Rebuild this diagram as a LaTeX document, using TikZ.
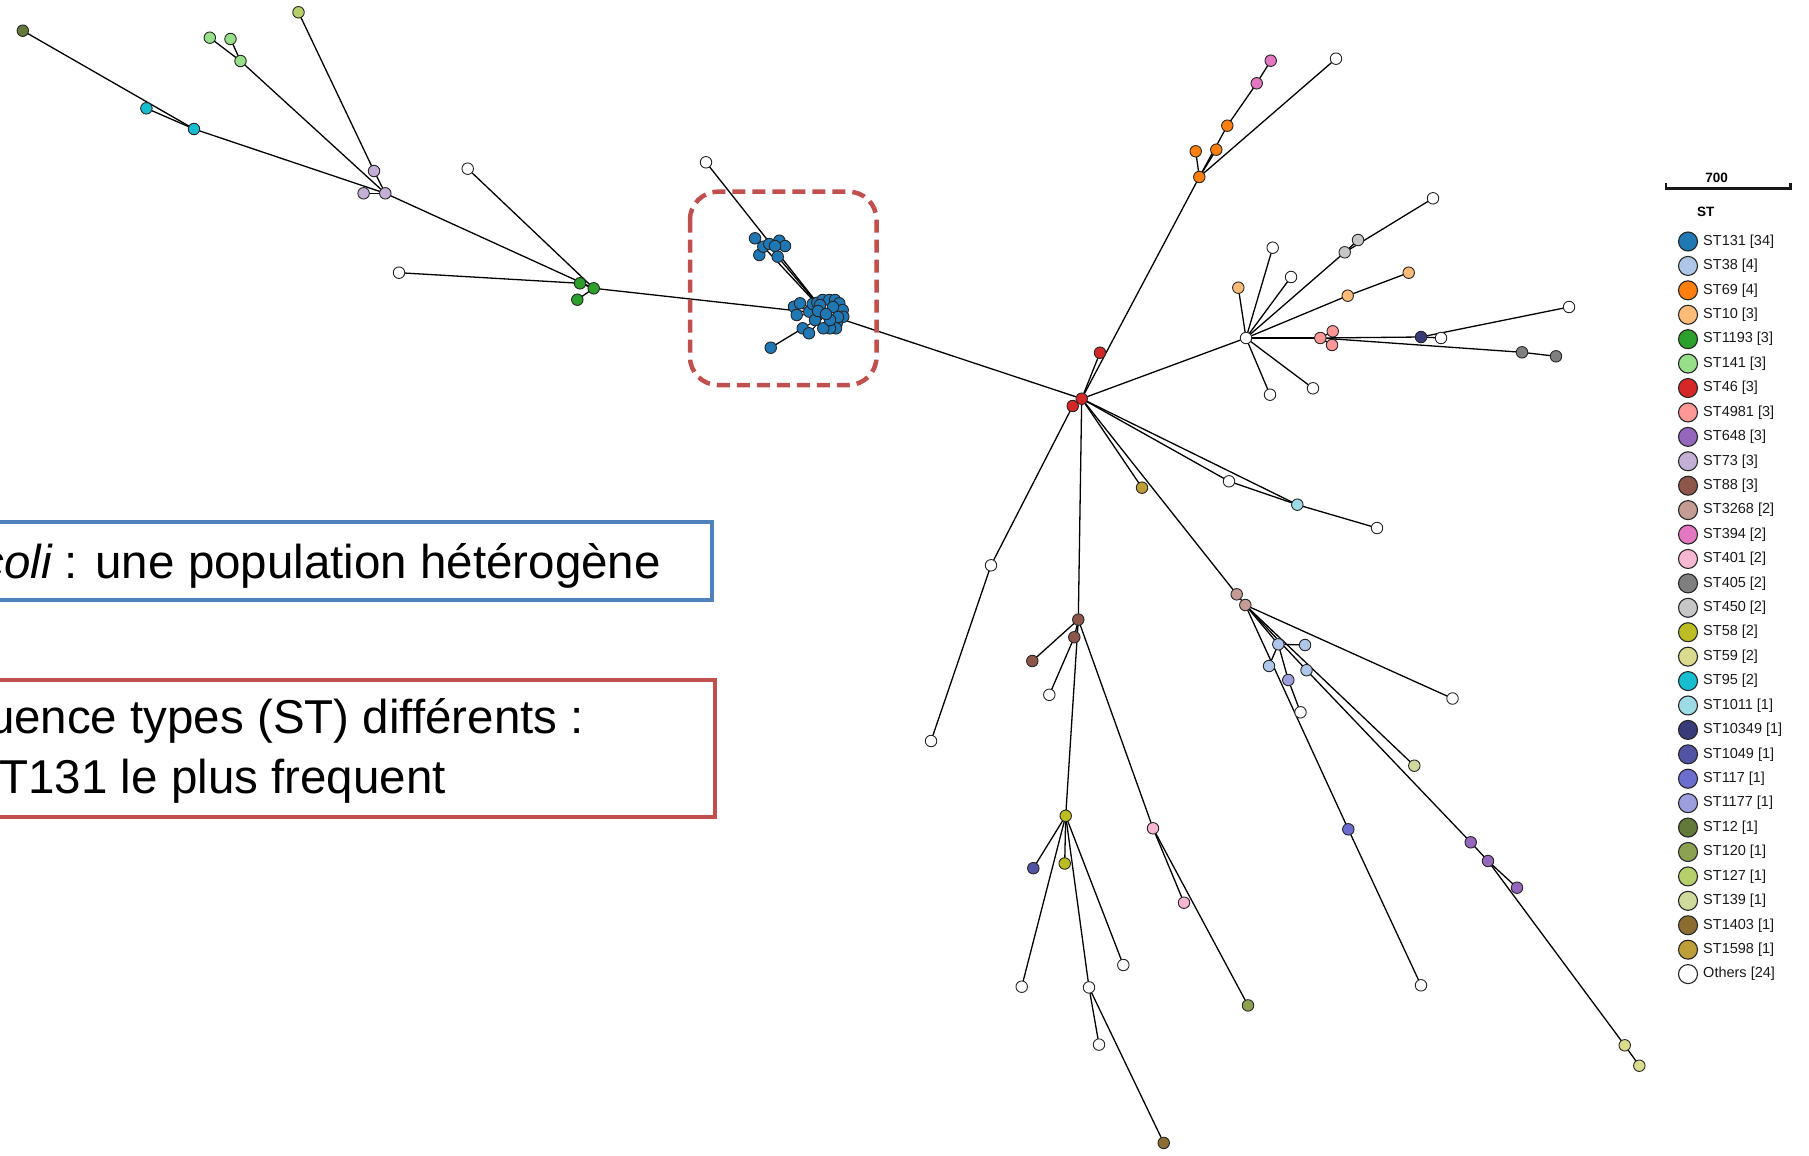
\documentclass[tikz,border=0pt]{standalone}
\usepackage{fontspec}
\setmainfont{Liberation Sans}
\usetikzlibrary{backgrounds}
\definecolor{c131}{HTML}{1F77B4}
\definecolor{c38}{HTML}{AEC7E8}
\definecolor{c69}{HTML}{FF7F0E}
\definecolor{c10}{HTML}{FFBB78}
\definecolor{c1193}{HTML}{2CA02C}
\definecolor{c141}{HTML}{98DF8A}
\definecolor{c46}{HTML}{D62728}
\definecolor{c4981}{HTML}{FF9896}
\definecolor{c648}{HTML}{9467BD}
\definecolor{c73}{HTML}{C5B0D5}
\definecolor{c88}{HTML}{8C564B}
\definecolor{c3268}{HTML}{C49C94}
\definecolor{c394}{HTML}{E377C2}
\definecolor{c401}{HTML}{F7B6D2}
\definecolor{c405}{HTML}{7F7F7F}
\definecolor{c450}{HTML}{C7C7C7}
\definecolor{c58}{HTML}{BCBD22}
\definecolor{c59}{HTML}{DBDB8D}
\definecolor{c95}{HTML}{17BECF}
\definecolor{c1011}{HTML}{9EDAE5}
\definecolor{c10349}{HTML}{393B79}
\definecolor{c1049}{HTML}{5254A3}
\definecolor{c117}{HTML}{6B6ECF}
\definecolor{c1177}{HTML}{9C9EDE}
\definecolor{c12}{HTML}{637939}
\definecolor{c120}{HTML}{8CA252}
\definecolor{c127}{HTML}{B5CF6B}
\definecolor{c139}{HTML}{CEDB9C}
\definecolor{c1403}{HTML}{8C6D31}
\definecolor{c1598}{HTML}{BD9E39}
\definecolor{cw}{HTML}{FFFFFF}
\definecolor{pblue}{HTML}{4F81BD}
\definecolor{pred}{HTML}{C0504D}
\tikzset{
  nd/.style={circle, draw=black!85, line width=0.9pt, minimum size=11.5pt, inner sep=0pt},
  lgc/.style={circle, draw=black!85, line width=1.1pt, minimum size=19pt, inner sep=0pt},
  lgt/.style={anchor=west, inner sep=0pt, text=black!90, font=\fontsize{14.5}{17}\selectfont},
  edge/.style={line width=1.3pt, black},
  bigtxt/.style={anchor=base east, inner sep=0pt, font=\fontsize{47.5}{56}\selectfont}
}
\begin{document}
\begin{tikzpicture}[x=1pt,y=-1pt]
\useasboundingbox (0,0) rectangle (1809,1156);
\clip (0,0) rectangle (1809,1156);

% ---------- left branches ----------
\node[nd,fill=c12] (n12) at (22.8,30.7) {};
\node[nd,fill=c95] (t1) at (146.4,108.3) {};
\node[nd,fill=c95] (t2) at (194,129) {};
\node[nd,fill=c141] (g1) at (209.8,37.7) {};
\node[nd,fill=c141] (g2) at (230.5,39) {};
\node[nd,fill=c141] (g3) at (240.5,61) {};
\node[nd,fill=c127] (n127) at (298.5,12.3) {};
\node[nd,fill=c73] (l1) at (374,171) {};
\node[nd,fill=c73] (l2) at (363.6,193.3) {};
\node[nd,fill=c73] (l3) at (385.3,193.3) {};
\node[nd,fill=cw] (w1) at (467.7,168.7) {};
\node[nd,fill=cw] (w2) at (399,272.7) {};
\node[nd,fill=c1193] (k1) at (580,283.3) {};
\node[nd,fill=c1193] (k3) at (577.3,299.7) {};
\node[nd,fill=c1193] (k2) at (593.7,288.3) {};

% ---------- ST131 cluster ----------
\node[nd,fill=cw] (w3) at (706,162.3) {};
\node[nd,fill=c131] (u1) at (755,238.3) {};
\node[nd,fill=c131] (u7) at (759.3,255) {};
\node[nd,fill=c131] (u2) at (763.3,246.7) {};
\node[nd,fill=c131] (u3) at (769.3,244) {};
\node[nd,fill=c131] (u5) at (779.3,240.7) {};
\node[nd,fill=c131] (u6) at (785,246) {};
\node[nd,fill=c131] (u4) at (775,246) {};
\node[nd,fill=c131] (u8) at (777.7,256.7) {};
\foreach \p [count=\k] in {(794,306.7),(800,303.3),(796.7,315),(809.3,311.7),(812.7,304),(817.3,302.7),(822.7,300),(829.3,300),(835,300),(839.3,303.3),(842.7,310),(843.3,316.7),(836.7,323.3),(836,328.3),(830,328.3),(823.3,328.3),(815,320),(802.7,328.3),(809,333.3),(770.7,347.7),(820,305),(833,307),(838,317),(830,320),(818,311)}
  \node[nd,fill=c131] (s\k) at \p {};
\node[nd,fill=c131] (ct) at (826,314) {};

% ---------- upper right ----------
\node[nd,fill=c46] (r2) at (1072.7,406) {};
\node[nd,fill=c46] (r1) at (1081.7,398.7) {};
\node[nd,fill=c46] (r3) at (1100,352.7) {};
\node[nd,fill=c69] (oh) at (1199.3,177) {};
\node[nd,fill=c69] (o1) at (1195.7,151.3) {};
\node[nd,fill=c69] (o2) at (1216.3,149.7) {};
\node[nd,fill=c69] (o3) at (1227.3,125.7) {};
\node[nd,fill=c394] (p1) at (1256.7,83.3) {};
\node[nd,fill=c394] (p2) at (1270.7,60.7) {};
\node[nd,fill=cw] (w4) at (1336,58.7) {};
\node[nd,fill=cw] (wh) at (1246,338) {};
\node[nd,fill=cw] (w5) at (1433,198.3) {};
\node[nd,fill=c450] (s2x) at (1358,240) {};
\node[nd,fill=c450] (s1x) at (1344.7,252.3) {};
\node[nd,fill=cw] (w6) at (1272.7,247.7) {};
\node[nd,fill=cw] (w7) at (1291,277) {};
\node[nd,fill=c10] (e1) at (1238.3,287.7) {};
\node[nd,fill=c10] (e2) at (1347.7,295.7) {};
\node[nd,fill=c10] (e3) at (1408.7,272.7) {};
\node[nd,fill=c4981] (f2) at (1332.7,331.3) {};
\node[nd,fill=c4981] (f3) at (1332,345) {};
\node[nd,fill=c4981] (f1) at (1320.3,338) {};
\node[nd,fill=cw] (w8) at (1441,338) {};
\node[nd,fill=c10349] (nv) at (1421,337) {};
\node[nd,fill=cw] (w9) at (1569,307) {};
\node[nd,fill=c405] (q1) at (1522,352.3) {};
\node[nd,fill=c405] (q2) at (1556,356.3) {};
\node[nd,fill=cw] (w10) at (1270,394.7) {};
\node[nd,fill=cw] (w11) at (1313,388.3) {};

% ---------- lower right ----------
\node[nd,fill=cw] (w12) at (1229,481.3) {};
\node[nd,fill=c1011] (m1) at (1297.3,504.7) {};
\node[nd,fill=cw] (w13) at (1377,528) {};
\node[nd,fill=c1598] (au) at (1142,487.7) {};
\node[nd,fill=c3268] (h1) at (1236.7,594.3) {};
\node[nd,fill=c3268] (h2) at (1245.3,605) {};
\node[nd,fill=c38] (b1) at (1278.3,644.3) {};
\node[nd,fill=c38] (b2) at (1305,645) {};
\node[nd,fill=c38] (b3) at (1269,666) {};
\node[nd,fill=c38] (b4) at (1306.5,670.2) {};
\node[nd,fill=c1177] (v1) at (1288.3,680) {};
\node[nd,fill=cw] (w14) at (1300.5,712.3) {};
\node[nd,fill=cw] (w15) at (1452.5,698.5) {};
\node[nd,fill=c139] (x1) at (1414.3,765.7) {};
\node[nd,fill=c117] (y1) at (1348.3,829.3) {};
\node[nd,fill=cw] (w16) at (1421,985.3) {};
\node[nd,fill=c648] (z1) at (1470.7,842.3) {};
\node[nd,fill=c648] (z2) at (1488,861) {};
\node[nd,fill=c648] (z3) at (1517,887.7) {};
\node[nd,fill=c59] (d1) at (1624.7,1045.3) {};
\node[nd,fill=c59] (d2) at (1639.3,1065.7) {};

% ---------- lower middle ----------
\node[nd,fill=cw] (w23) at (991,565.3) {};
\node[nd,fill=cw] (w17) at (931,741) {};
\node[nd,fill=c88] (a1) at (1078.3,619.6) {};
\node[nd,fill=c88] (a2) at (1074.3,637.2) {};
\node[nd,fill=c88] (a3) at (1032.3,661) {};
\node[nd,fill=cw] (w18) at (1049.3,694.8) {};
\node[nd,fill=c58] (j1) at (1065.7,815.8) {};
\node[nd,fill=c58] (j2) at (1064.7,863.5) {};
\node[nd,fill=c1049] (i1) at (1033.3,868.2) {};
\node[nd,fill=cw] (w19) at (1021.7,986.7) {};
\node[nd,fill=cw] (w20) at (1089,987.4) {};
\node[nd,fill=cw] (w21) at (1123.3,965) {};
\node[nd,fill=cw] (w22) at (1099,1044.6) {};
\node[nd,fill=c1403] (br) at (1163.7,1142.9) {};
\node[nd,fill=c401] (pk1) at (1153,828.3) {};
\node[nd,fill=c401] (pk2) at (1184,902.7) {};
\node[nd,fill=c120] (ol) at (1248,1005.4) {};

% ---------- edges ----------
\begin{scope}[on background layer]
\foreach \a/\b in {n12/t2,t1/t2,t2/l3,g1/g3,g2/g3,g3/l3,n127/l1,l1/l3,l2/l3,l3/k2,w1/k2,w2/k1,k1/k2,k3/k2,k2/ct,
  w3/ct,ct/u8,ct/u2,u2/u1,u2/u7,u8/u4,u4/u3,u4/u5,u4/u6,s20/s18,ct/r1,
  r1/r3,r1/oh,oh/o1,oh/o2,oh/o3,o3/p1,p1/p2,oh/w4,
  r1/wh,wh/e1,wh/w6,wh/w7,wh/s1x,s1x/w5,s1x/s2x,wh/e2,e2/e3,wh/f1,f1/f2,f1/f3,f1/nv,nv/w9,nv/w8,f1/q1,q1/q2,wh/w10,wh/w11,
  r1/r2,r2/w23,w23/w17,
  r1/w12,r1/m1,w12/m1,m1/w13,r1/au,r1/h1,h1/h2,h2/w15,h2/b1,b1/b2,b1/b3,b1/v1,v1/w14,h2/y1,y1/w16,h2/b4,b4/z1,z1/z2,z2/z3,z2/d1,d1/d2,h2/x1,
  r1/a1,a1/a2,a2/w18,a1/a3,a1/j1,j1/i1,j1/j2,j1/w19,j1/w20,j1/w21,w20/w22,w20/br,a1/pk1,pk1/pk2,pk1/ol}
  \draw[edge] (\a.center) -- (\b.center);
\foreach \k in {1,...,19,21,22,23,24,25}
  \draw[edge, line width=1pt] (ct.center) -- (s\k.center);
\end{scope}

% ---------- dashed highlight ----------
\draw[pred, line width=4.5pt, rounded corners=28pt, dash pattern=on 13pt off 7pt] (690,191.7) rectangle (876.5,385);

% ---------- text boxes ----------
\draw[pblue, line width=4pt] (-20,521.5) rectangle (711.7,600);
\node[bigtxt] (txt1) at (661,578.3) {{\itshape coli} : une population hétérogène};
\draw[pred, line width=4pt] (-20,680) rectangle (714.5,817);
\node[bigtxt] (txt2) at (584,733.3) {uence types (ST) différents :};
\node[bigtxt] (txt3) at (446,793.3) {T131 le plus frequent};

% ---------- legend ----------
\draw[line width=2.2pt, black!90] (1666,182.5) -- (1666,188.5) -- (1790.5,188.5) -- (1790.5,182.5);
\node[font=\fontsize{13.5}{16}\selectfont\bfseries, inner sep=0pt] (sc) at (1716.7,178.3) {700};
\node[font=\fontsize{13.5}{16}\selectfont\bfseries, inner sep=0pt, anchor=west] (sth) at (1697,211.7) {ST};
\foreach \col/\lab [count=\i from 0] in {c131/{ST131 [34]},c38/{ST38 [4]},c69/{ST69 [4]},c10/{ST10 [3]},c1193/{ST1193 [3]},c141/{ST141 [3]},c46/{ST46 [3]},c4981/{ST4981 [3]},c648/{ST648 [3]},c73/{ST73 [3]},c88/{ST88 [3]},c3268/{ST3268 [2]},c394/{ST394 [2]},c401/{ST401 [2]},c405/{ST405 [2]},c450/{ST450 [2]},c58/{ST58 [2]},c59/{ST59 [2]},c95/{ST95 [2]},c1011/{ST1011 [1]},c10349/{ST10349 [1]},c1049/{ST1049 [1]},c117/{ST117 [1]},c1177/{ST1177 [1]},c12/{ST12 [1]},c120/{ST120 [1]},c127/{ST127 [1]},c139/{ST139 [1]},c1403/{ST1403 [1]},c1598/{ST1598 [1]},cw/{Others [24]}}
{
  \node[lgc, fill=\col] (lc\i) at (1688,241.5+24.42*\i) {};
  \node[lgt] (lt\i) at (1703,241.5+24.42*\i) {\lab};
}
\end{tikzpicture}
\end{document}
